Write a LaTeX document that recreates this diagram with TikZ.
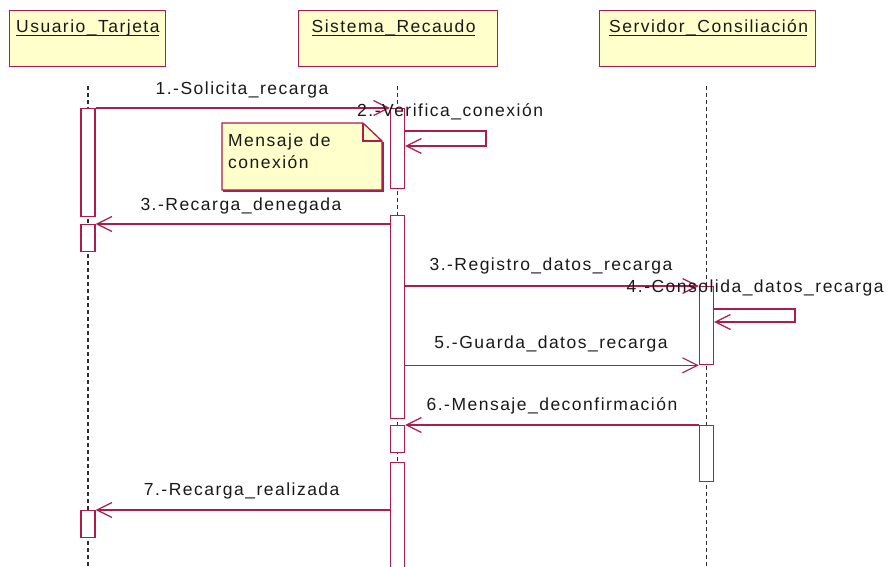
\documentclass[tikz,border=0pt]{standalone}
\usepackage{fontspec}
\setmainfont{Liberation Sans}[LetterSpace=8.5]
\usetikzlibrary{arrows.meta}
\definecolor{umlred}{RGB}{172,28,78}
\definecolor{umlfill}{RGB}{255,255,204}
\definecolor{lifegray}{RGB}{45,45,45}
\tikzset{
  objbox/.style={draw=umlred, fill=umlfill, line width=1.3pt, rectangle, inner sep=0pt, anchor=north west},
  objtitle/.style={inner sep=0pt, anchor=base west, text=black!90},
  lifeline/.style={draw=lifegray, line width=1.3pt, dash pattern=on 4pt off 3pt},
  act/.style={draw=umlred, fill=white, line width=1.3pt, rectangle, inner sep=0pt, minimum width=14pt, anchor=north},
  msg/.style={draw=umlred, line width=1.3pt, -{Straight Barb[length=15pt,width=15pt,line width=1.2pt]}},
  lbl/.style={inner sep=0pt, text=black!90},
  notebox/.style={draw=umlred, fill=umlfill, line width=1.3pt, line join=miter}
}
\begin{document}
\begin{tikzpicture}[x=1pt, y=-1pt, font=\fontsize{17.5}{21}\selectfont]
\useasboundingbox (0,0) rectangle (887,566);

% participants
\node[objbox, minimum width=156pt, minimum height=56pt] (usuario) at (9,10) {};
\node[objbox, minimum width=199pt, minimum height=56pt] (sistema) at (298,10) {};
\node[objbox, minimum width=216pt, minimum height=56pt] (servidor) at (599,10) {};
\node[objtitle] (tu) at (16,32.7) {Usuario\_Tarjeta};
\node[objtitle] (ts) at (311.5,32.7) {Sistema\_Recaudo};
\node[objtitle] (tv) at (609,32.7) {Servidor\_Consiliación};
\foreach \t in {tu,ts,tv}
  \draw[black!90, line width=1.2pt] ([yshift=-2.6pt]\t.base west) -- ([yshift=-2.6pt,xshift=-1.2pt]\t.base east);

% lifelines
\coordinate (lu0) at (88,86);   \coordinate (lu1) at (88,566);
\coordinate (ls0) at (397.5,86); \coordinate (ls1) at (397.5,566);
\coordinate (lv0) at (706.5,86); \coordinate (lv1) at (706.5,566);
\draw[lifeline] (lu0) -- (lu1);
\draw[lifeline] (ls0) -- (ls1);
\draw[lifeline] (lv0) -- (lv1);

% activation bars
\node[act, minimum height=108pt] (u1) at (88,108) {};
\node[act, minimum height=27pt]  (u2) at (88,224) {};
\node[act, minimum height=27pt]  (u3) at (88,510) {};
\node[act, minimum height=80pt]  (s1) at (397.5,108) {};
\node[act, minimum height=203pt] (s2) at (397.5,215) {};
\node[act, minimum height=27pt]  (s3) at (397.5,425) {};
\node[act, minimum height=110pt] (s4) at (397.5,462) {};
\node[act, minimum height=78pt]  (c1) at (706.5,286) {};
\node[act, minimum height=56pt]  (c2) at (706.5,425) {};

% note
\path[notebox] (222,123) -- (363,123) -- (382,141) -- (382,190) -- (222,190) -- cycle;
\draw[umlred, line width=1.3pt, line join=miter] (363,123) -- (363,141) -- (382,141);
\draw[umlred, line width=1.4pt] (222.5,191) -- (383,191) -- (383,141.5);
\node[lbl, anchor=base west] (n1) at (228,146) {Mensaje de};
\node[lbl, anchor=base west] (n2) at (228,168.5) {conexión};

% messages
\draw[msg] (u1.north east) -- (s1.north west);
\node[lbl, anchor=base] (l1) at (242,94) {1.-Solicita\_recarga};

\draw[msg] (s1.east |- 0,131) -- (486,131) -- (486,146) -- (s1.east |- 0,146);
\node[lbl, anchor=base west] (l2) at (357,116) {2.-Verifica\_conexión};

\draw[msg] (s2.west |- u2.north) -- (u2.north east);
\node[lbl, anchor=base] (l3) at (241,210.5) {3.-Recarga\_denegada};

\draw[msg] (s2.east |- c1.north) -- (c1.north west);
\node[lbl, anchor=base] (l4) at (551,270) {3.-Registro\_datos\_recarga};

\draw[msg] (c1.east |- 0,309) -- (795,309) -- (795,322) -- (c1.east |- 0,322);
\node[lbl, anchor=base west] (l5) at (626.5,292.5) {4.-Consolida\_datos\_recarga};

\draw[msg] (s2.east |- c1.south) -- (c1.south west);
\node[lbl, anchor=base] (l6) at (551,348.3) {5.-Guarda\_datos\_recarga};

\draw[msg] (c2.north west) -- (s3.north east);
\node[lbl, anchor=base] (l7) at (552,410.7) {6.-Mensaje\_deconfirmación};

\draw[msg] (s4.west |- u3.north) -- (u3.north east);
\node[lbl, anchor=base] (l8) at (241.7,495.7) {7.-Recarga\_realizada};
\end{tikzpicture}
\end{document}
